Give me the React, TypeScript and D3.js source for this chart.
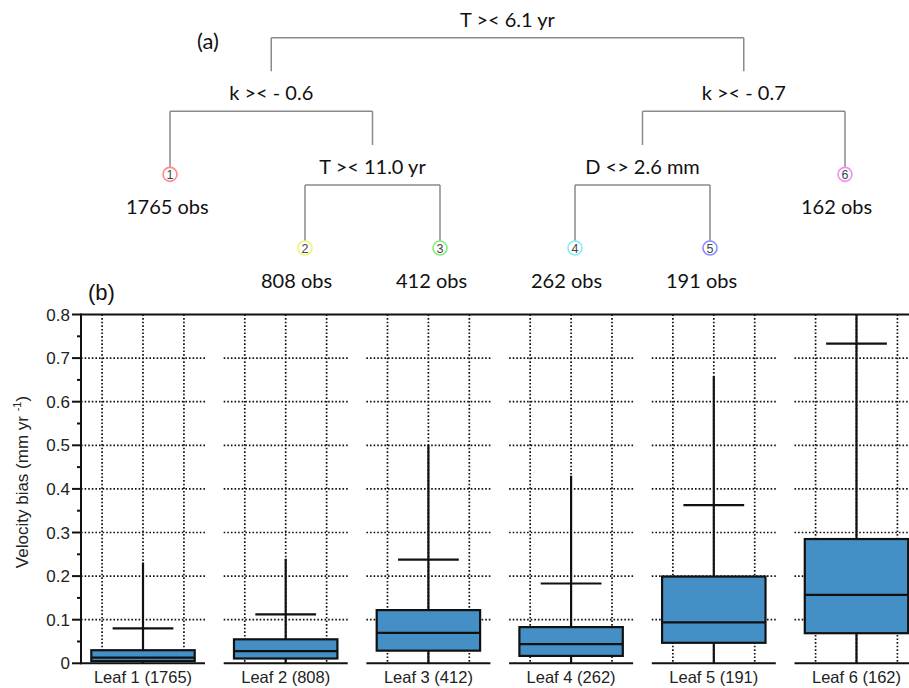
import { useEffect } from 'react'
import * as d3 from 'd3'

// --- tree (a) ---
const treeIds = ['root', 'n1', 'leaf1', 'n2', 'leaf2', 'leaf3', 'n3', 'n4', 'leaf4', 'leaf5', 'leaf6']
const treeParents = ['', 'root', 'n1', 'n1', 'n2', 'n2', 'root', 'n3', 'n4', 'n4', 'n3']
const splitLabels: Record<string, string> = {
  root: 'T >< 6.1 yr',
  n1: 'k >< - 0.6',
  n2: 'T >< 11.0 yr',
  n3: 'k >< - 0.7',
  n4: 'D <> 2.6 mm',
}

// --- leaves / boxes (b) ---
const leafNumbers = [1, 2, 3, 4, 5, 6]
const leafObs = [1765, 808, 412, 262, 191, 162]
const leafColors = ['#ff8a8a', '#f2f27a', '#80ea80', '#80f0f0', '#8a8aff', '#f58af5']
const whiskerLow = [0, 0, 0, 0, 0, 0]
const q1 = [0.005, 0.011, 0.029, 0.017, 0.047, 0.069]
const median = [0.013, 0.028, 0.07, 0.044, 0.094, 0.157]
const q3 = [0.03, 0.055, 0.122, 0.083, 0.199, 0.285]
const whiskerHigh = [0.231, 0.24, 0.5, 0.43, 0.659, 0.86]
const means = [0.08, 0.112, 0.238, 0.183, 0.363, 0.733]

const yTicks = [0, 0.1, 0.2, 0.3, 0.4, 0.5, 0.6, 0.7, 0.8]

const W = 909
const H = 688
const treeFont = 'Lato, Carlito, Calibri, "Open Sans", sans-serif'
const plotFont = '"Liberation Sans", Arial, Helvetica, sans-serif'

interface TNode { id: string; parent: string }

export default function App() {
  useEffect(() => {
    document.body.style.margin = '0'
  }, [])

  const leafLabels = leafNumbers.map((n, i) => `Leaf ${n} (${leafObs[i]})`)

  // ---------- tree layout ----------
  const table: TNode[] = treeIds.map((id, i) => ({ id, parent: treeParents[i] }))
  const root = d3.stratify<TNode>()
    .id(d => d.id)
    .parentId(d => d.parent || null)(table)

  const leaves = root.leaves()
  const leafX = d3.scalePoint<string>()
    .domain(leaves.map(l => l.id!))
    .range([170, 845])
  const barY = d3.scaleLinear().domain([0, 2]).range([37.7, 185])

  const xs: Record<string, number> = {}
  root.eachAfter(n => {
    if (n.children) xs[n.id!] = d3.mean(n.children, c => xs[c.id!])!
    else xs[n.id!] = leafX(n.id!)!
  })
  const circleR = 7
  const leafCy = (n: d3.HierarchyNode<TNode>) => barY(n.parent!.depth) + 63

  const treeEls: JSX.Element[] = []
  root.each(n => {
    const x = xs[n.id!]
    if (n.children) {
      const by = barY(n.depth)
      treeEls.push(
        <text key={`l-${n.id}`} x={x} y={by - 11} textAnchor="middle"
          fontFamily={treeFont} fontSize={20} fill="#111">{splitLabels[n.id!]}</text>
      )
      const cx = n.children.map(c => xs[c.id!])
      treeEls.push(
        <line key={`h-${n.id}`} x1={d3.min(cx)} x2={d3.max(cx)} y1={by} y2={by}
          stroke="#8a8a8a" strokeWidth={1.5} />
      )
      n.children.forEach(c => {
        const end = c.children ? barY(c.depth) - 40 : leafCy(c) - circleR
        treeEls.push(
          <line key={`v-${c.id}`} x1={xs[c.id!]} x2={xs[c.id!]} y1={by} y2={end}
            stroke="#8a8a8a" strokeWidth={1.5} />
        )
      })
    } else {
      const li = leaves.indexOf(n)
      const cy = leafCy(n)
      treeEls.push(
        <g key={`c-${n.id}`}>
          <circle cx={x} cy={cy} r={circleR} fill="#fff" stroke={leafColors[li]} strokeWidth={1.6} />
          <text x={x} y={cy + 4.5} textAnchor="middle" fontFamily={plotFont} fontSize={12.5} fill="#444">
            {leafNumbers[li]}
          </text>
          <text x={x - 44} y={cy + 40} fontFamily={treeFont} fontSize={20} fill="#111">
            {`${leafObs[li]} obs`}
          </text>
        </g>
      )
    }
  })

  // ---------- box plot layout ----------
  const y = d3.scaleLinear().domain([0, 0.8]).range([663.3, 314.5])
  const band = d3.scaleBand<string>()
    .domain(leafLabels)
    .range([81, 918.5])
    .paddingInner(0.131)
    .paddingOuter(0)
  const bw = band.bandwidth()
  const inner = d3.scaleLinear().domain([-1, 1]).range([0, bw])
  const minorTicks = y.ticks(16).filter(t => !yTicks.some(m => Math.abs(m - t) < 1e-9))
  const dots = { stroke: '#111', strokeWidth: 1.7, strokeDasharray: '1.6,2' }

  return (
    <svg width={W} height={H} style={{ position: 'absolute', left: 0, top: 0, background: '#fff' }}>
      <defs>
        <clipPath id="plot-clip">
          <rect x={0} y={y(0.8)} width={W} height={y(0) - y(0.8)} />
        </clipPath>
      </defs>

      <text x={197} y={49} fontFamily={treeFont} fontSize={22} fill="#111">(a)</text>
      {treeEls}

      <text x={88} y={300} fontFamily={plotFont} fontSize={22} fill="#111">(b)</text>

      {/* grid */}
      {leafLabels.map(lbl => {
        const x0 = band(lbl)!
        return (
          <g key={`grid-${lbl}`}>
            {yTicks.filter(t => t > 0 && t < 0.8).map(t => (
              <line key={t} x1={x0} x2={x0 + bw} y1={y(t)} y2={y(t)} {...dots} />
            ))}
            {[-0.66, 0, 0.66].map(p => (
              <line key={p} x1={x0 + inner(p)} x2={x0 + inner(p)} y1={y(0.8)} y2={y(0)} {...dots} />
            ))}
          </g>
        )
      })}

      {/* boxes */}
      <g clipPath="url(#plot-clip)">
        {leafLabels.map((lbl, i) => {
          const x0 = band(lbl)!
          const cx = x0 + inner(0)
          return (
            <g key={`box-${lbl}`} stroke="#111" strokeWidth={2.2}>
              <line x1={cx} x2={cx} y1={y(whiskerLow[i])} y2={y(whiskerHigh[i])} />
              <rect x={x0 + inner(-0.834)} width={inner(0.834) - inner(-0.834)}
                y={y(q3[i])} height={y(q1[i]) - y(q3[i])} fill="#4490c6" />
              <line x1={x0 + inner(-0.834)} x2={x0 + inner(0.834)} y1={y(median[i])} y2={y(median[i])} />
              <line x1={x0 + inner(-0.49)} x2={x0 + inner(0.49)} y1={y(means[i])} y2={y(means[i])} />
            </g>
          )
        })}
      </g>

      {/* axes */}
      <line x1={81} x2={W} y1={y(0.8)} y2={y(0.8)} stroke="#111" strokeWidth={2} />
      <line x1={81} x2={81} y1={y(0.8) - 1} y2={y(0) + 1} stroke="#111" strokeWidth={2} />
      {leafLabels.map(lbl => (
        <line key={`base-${lbl}`} x1={band(lbl)!} x2={band(lbl)! + bw} y1={y(0)} y2={y(0)}
          stroke="#111" strokeWidth={2} />
      ))}
      {yTicks.map(t => (
        <g key={`yt-${t}`}>
          <line x1={72} x2={81} y1={y(t)} y2={y(t)} stroke="#111" strokeWidth={2} />
          <text x={70} y={y(t) + 6} textAnchor="end" fontFamily={plotFont} fontSize={17} fill="#222">
            {t === 0 ? '0' : d3.format('.1f')(t)}
          </text>
        </g>
      ))}
      {minorTicks.map(t => (
        <line key={`mt-${t}`} x1={77} x2={81} y1={y(t)} y2={y(t)} stroke="#111" strokeWidth={2} />
      ))}
      {leafLabels.map(lbl => (
        <text key={`xl-${lbl}`} x={band(lbl)! + bw / 2} y={683} textAnchor="middle"
          fontFamily={plotFont} fontSize={16.5} fill="#222">{lbl}</text>
      ))}
      <text transform={`translate(28, 482) rotate(-90)`} textAnchor="middle"
        fontFamily={plotFont} fontSize={17} fill="#222">
        Velocity bias (mm yr <tspan fontSize={11} dy={-7}>-1</tspan><tspan dy={7}>)</tspan>
      </text>
    </svg>
  )
}
